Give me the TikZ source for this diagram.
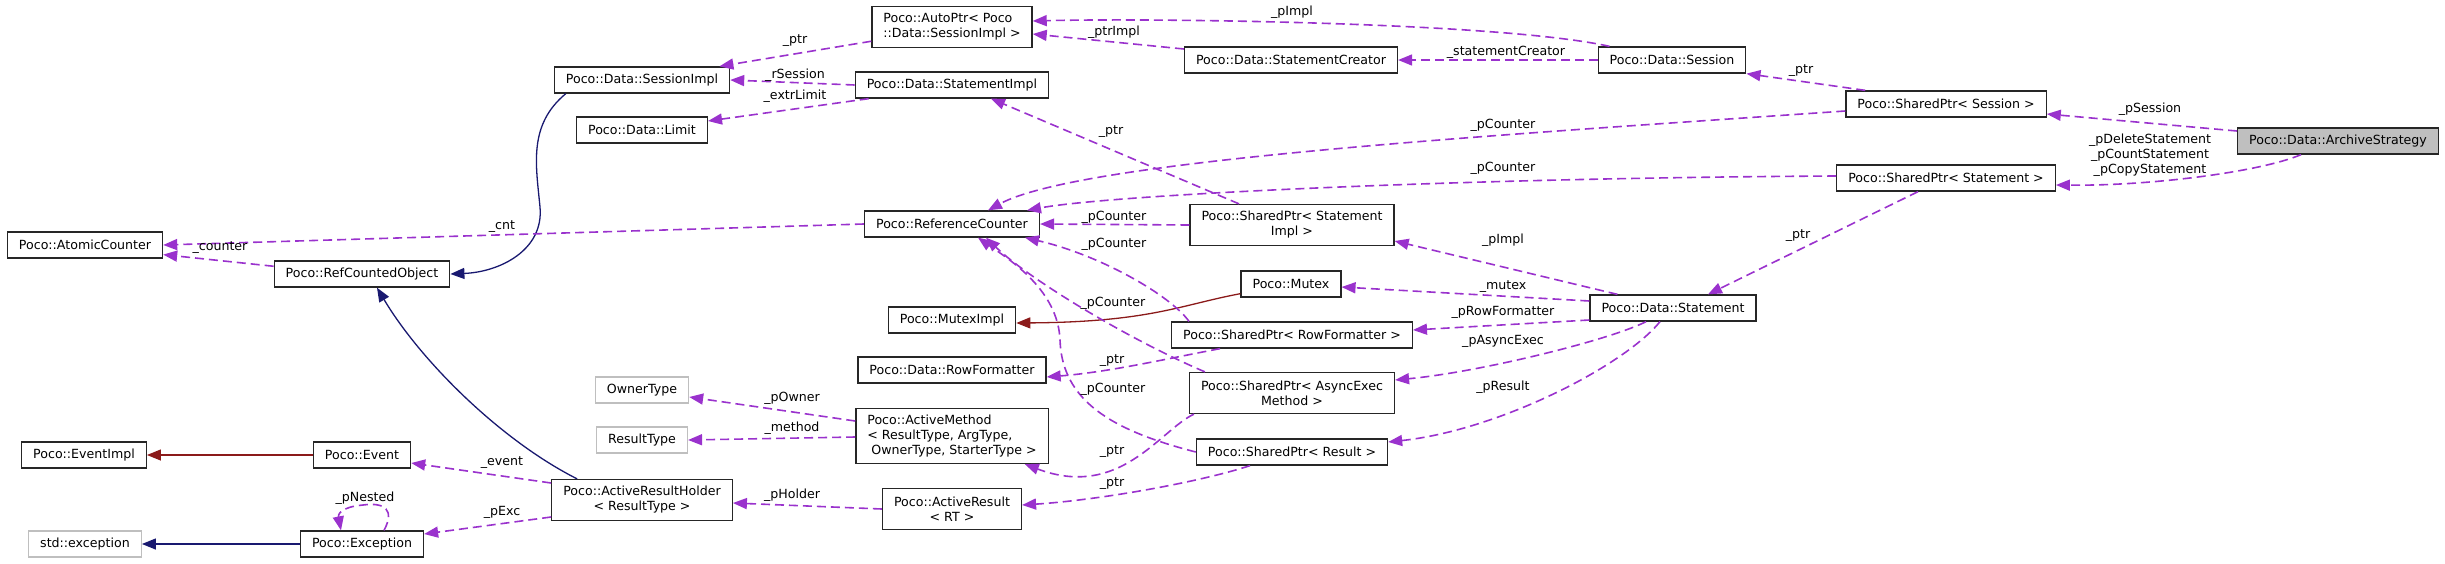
\documentclass[tikz,border=0pt]{standalone}
\usepackage{fontspec}
\setmainfont{DejaVu Sans}
\usetikzlibrary{arrows.meta}

\definecolor{usecol}{RGB}{154,50,205}
\definecolor{inhcol}{RGB}{25,25,112}
\definecolor{privcol}{RGB}{139,26,26}
\definecolor{extcol}{RGB}{191,191,191}

\begin{document}
\begin{tikzpicture}[x=1pt,y=-1pt,
    every node/.style={font=\fontsize{12.6}{15}\selectfont},
    cls/.style={draw=black!85, fill=white, line width=1.3pt, minimum height=26pt, inner xsep=11.5pt, inner ysep=2pt},
    ext/.style={cls, draw=extcol},
    focus/.style={cls, fill=extcol},
    uses/.style={usecol, line width=1.6pt, dash pattern=on 9pt off 5pt, -{Triangle[length=14pt,width=11pt]}},
    pub/.style={inhcol, line width=1.3pt, -{Triangle[length=14pt,width=11pt]}},
    priv/.style={privcol, line width=1.3pt, -{Triangle[length=14pt,width=11pt]}},
    lbl/.style={inner sep=1pt}]
    \useasboundingbox (0,0) rectangle (2445,563);

    % classes
    \node[cls] (atomicCounter) at (85,245) {Poco::AtomicCounter};
    \node[cls] (refCounted) at (362,274) {Poco::RefCountedObject};
    \node[cls] (sessionImpl) at (642,80) {Poco::Data::SessionImpl};
    \node[cls] (limit) at (642,130) {Poco::Data::Limit};
    \node[cls, align=left, minimum height=41pt] (autoPtr) at (952,27) {Poco::AutoPtr< Poco\\::Data::SessionImpl >};
    \node[cls] (stmtImpl) at (952,85) {Poco::Data::StatementImpl};
    \node[cls] (stmtCreator) at (1291,60) {Poco::Data::StatementCreator};
    \node[cls] (session) at (1672,60) {Poco::Data::Session};
    \node[cls] (spSession) at (1946,104) {Poco::SharedPtr< Session >};
    \node[focus] (archive) at (2338,141) {Poco::Data::ArchiveStrategy};
    \node[cls] (spStatement) at (1946,178) {Poco::SharedPtr< Statement >};
    \node[cls] (refCounter) at (952,224) {Poco::ReferenceCounter};
    \node[cls, align=center, minimum height=41pt] (spStmtImpl) at (1292,225) {Poco::SharedPtr< Statement\\Impl >};
    \node[cls] (mutex) at (1291,284) {Poco::Mutex};
    \node[cls] (statement) at (1673,308) {Poco::Data::Statement};
    \node[cls] (mutexImpl) at (952,320) {Poco::MutexImpl};
    \node[cls] (spRowFmt) at (1292,335) {Poco::SharedPtr< RowFormatter >};
    \node[cls] (rowFmt) at (952,370) {Poco::Data::RowFormatter};
    \node[cls, align=center, minimum height=41pt] (spAsync) at (1292,393) {Poco::SharedPtr< AsyncExec\\Method >};
    \node[ext] (ownerType) at (642,390) {OwnerType};
    \node[ext] (resultType) at (642,440) {ResultType};
    \node[cls, align=left, minimum height=55pt] (activeMethod) at (952,436) {Poco::ActiveMethod\\< ResultType, ArgType,\\\ OwnerType, StarterType >};
    \node[cls] (spResult) at (1292,452) {Poco::SharedPtr< Result >};
    \node[cls] (eventImpl) at (84,455) {Poco::EventImpl};
    \node[cls] (event) at (362,455) {Poco::Event};
    \node[cls, align=center, minimum height=41pt] (arHolder) at (642,500) {Poco::ActiveResultHolder\\< ResultType >};
    \node[cls, align=center, minimum height=41pt] (activeResult) at (952,509) {Poco::ActiveResult\\< RT >};
    \node[ext] (stdException) at (85,544) {std::exception};
    \node[cls] (exception) at (362,544) {Poco::Exception};

    % inheritance
    \draw[pub] ([xshift=12pt]sessionImpl.south west) .. controls (528,125) and (536,165) .. (540,207) .. controls (544,250) and (500,272) .. (refCounted.east);
    \draw[pub] ([xshift=26pt]arHolder.north west) .. controls (500,440) and (420,360) .. ([xshift=15pt]refCounted.south);
    \draw[pub] (exception.west) -- (stdException.east);
    \draw[priv] (event.west) -- (eventImpl.east);
    \draw[priv] ([yshift=4pt]mutex.south west) .. controls (1180,305) and (1150,322) .. ([yshift=-3pt]mutexImpl.east);

    % usage
    \draw[uses] (refCounted.175) -- (atomicCounter.-7);
    \draw[uses] (refCounter.west) -- (atomicCounter.east);
    \draw[uses] (autoPtr.190) -- (sessionImpl.10);
    \draw[uses] (stmtImpl.west) -- (sessionImpl.east);
    \draw[uses] ([xshift=14pt]stmtImpl.south west) -- ([yshift=9pt]limit.east);
    \draw[uses] ([yshift=11pt]stmtCreator.west) -- ([yshift=-7pt]autoPtr.east);
    \draw[uses] ([xshift=12pt]session.north west) .. controls (1500,22) and (1150,18) .. ([yshift=6pt]autoPtr.east);
    \draw[uses] (session.west) -- (stmtCreator.east);
    \draw[uses] ([xshift=20pt]spSession.north west) -- (session.south east);
    \draw[uses] ([yshift=10pt]archive.west) -- ([yshift=-10pt]spSession.east);
    \draw[uses] ([xshift=-37pt]archive.south) .. controls (2260,172) and (2150,186) .. ([yshift=-7pt]spStatement.east);
    \draw[uses] ([yshift=-7pt]spSession.west) .. controls (1500,135) and (1080,160) .. ([xshift=36pt]refCounter.north);
    \draw[uses] ([yshift=2pt]spStatement.west) .. controls (1450,178) and (1110,195) .. ([xshift=75pt]refCounter.north);
    \draw[uses] ([xshift=-28pt]spStatement.south) -- ([xshift=35pt]statement.north);
    \draw[uses] ([xshift=-53pt]spStmtImpl.north) -- ([xshift=39pt]stmtImpl.south);
    \draw[uses] (spStmtImpl.west) -- (refCounter.east);
    \draw[uses] ([xshift=28pt]statement.north west) -- ([yshift=-16pt]spStmtImpl.east);
    \draw[uses] ([yshift=7pt]statement.west) -- ([yshift=-3pt]mutex.east);
    \draw[uses] ([yshift=-12pt]statement.west) -- ([yshift=5pt]spRowFmt.east);
    \draw[uses] ([xshift=-27pt]statement.south) .. controls (1610,340) and (1480,372) .. ([yshift=13pt]spAsync.east);
    \draw[uses] ([xshift=-13pt]statement.south) .. controls (1625,365) and (1500,430) .. ([yshift=10pt]spResult.east);
    \draw[uses] ([xshift=18pt]spRowFmt.north west) .. controls (1170,295) and (1100,255) .. ([xshift=73pt]refCounter.south);
    \draw[uses] ([xshift=16pt]spAsync.north west) .. controls (1130,340) and (1030,280) .. ([xshift=34pt]refCounter.south);
    \draw[uses] (spResult.west) .. controls (1110,430) and (1062,400) .. (1060,340) .. controls (1058,290) and (1010,260) .. ([xshift=26pt]refCounter.south);
    \draw[uses] ([xshift=49pt]spRowFmt.south west) .. controls (1170,358) and (1110,372) .. ([yshift=-7pt]rowFmt.east);
    \draw[uses] ([xshift=5pt]spAsync.south west) .. controls (1160,430) and (1120,500) .. ([xshift=-24pt]activeMethod.south east);
    \draw[uses] ([xshift=-42pt]spResult.south) .. controls (1200,482) and (1100,500) .. ([yshift=4pt]activeResult.east);
    \draw[uses] ([yshift=15pt]activeMethod.west) -- ([yshift=-7pt]ownerType.east);
    \draw[uses] ([yshift=-1pt]activeMethod.west) -- (resultType.east);
    \draw[uses] (activeResult.west) -- ([yshift=-3pt]arHolder.east);
    \draw[uses] ([yshift=17pt]arHolder.west) -- ([yshift=-8pt]event.east);
    \draw[uses] ([yshift=-17pt]arHolder.west) -- ([yshift=10pt]exception.east);
    \draw[uses] ([xshift=22pt]exception.north) .. controls (395,510) and (385,502) .. (363,505) .. controls (340,507) and (338,515) .. ([xshift=-21pt]exception.north);

    % labels
    \node[lbl] (lCounter) at (220,248) {\_counter};
    \node[lbl] (lCnt) at (502,227) {\_cnt};
    \node[lbl] (lPtrA) at (795,41) {\_ptr};
    \node[lbl] (lRSession) at (795,75) {\_rSession};
    \node[lbl] (lExtrLimit) at (795,96) {\_extrLimit};
    \node[lbl] (lPImplA) at (1292,12) {\_pImpl};
    \node[lbl] (lPtrImpl) at (1114,32) {\_ptrImpl};
    \node[lbl] (lStmtCreator) at (1506,52) {\_statementCreator};
    \node[lbl] (lPtrB) at (1801,71) {\_ptr};
    \node[lbl] (lPSession) at (2150,109) {\_pSession};
    \node[lbl, align=center] (lStmts) at (2150,155) {\_pDeleteStatement\\\_pCountStatement\\\_pCopyStatement};
    \node[lbl] (lPCounterA) at (1503,125) {\_pCounter};
    \node[lbl] (lPCounterB) at (1503,168) {\_pCounter};
    \node[lbl] (lPtrC) at (1111,132) {\_ptr};
    \node[lbl] (lPCounterC) at (1114,217) {\_pCounter};
    \node[lbl] (lPImplB) at (1503,240) {\_pImpl};
    \node[lbl] (lMutex) at (1503,287) {\_mutex};
    \node[lbl] (lPCounterD) at (1114,244) {\_pCounter};
    \node[lbl] (lPtrD) at (1798,236) {\_ptr};
    \node[lbl] (lPCounterE) at (1113,303) {\_pCounter};
    \node[lbl] (lPRowFmt) at (1503,312) {\_pRowFormatter};
    \node[lbl] (lPAsync) at (1503,341) {\_pAsyncExec};
    \node[lbl] (lPtrE) at (1112,361) {\_ptr};
    \node[lbl] (lPCounterF) at (1113,389) {\_pCounter};
    \node[lbl] (lPResult) at (1503,387) {\_pResult};
    \node[lbl] (lPtrF) at (1112,452) {\_ptr};
    \node[lbl] (lPtrG) at (1112,484) {\_ptr};
    \node[lbl] (lPOwner) at (792,398) {\_pOwner};
    \node[lbl] (lMethod) at (792,428) {\_method};
    \node[lbl] (lPHolder) at (792,495) {\_pHolder};
    \node[lbl] (lEvent) at (502,463) {\_event};
    \node[lbl] (lPExc) at (502,512) {\_pExc};
    \node[lbl] (lPNested) at (365,498) {\_pNested};
\end{tikzpicture}
\end{document}
